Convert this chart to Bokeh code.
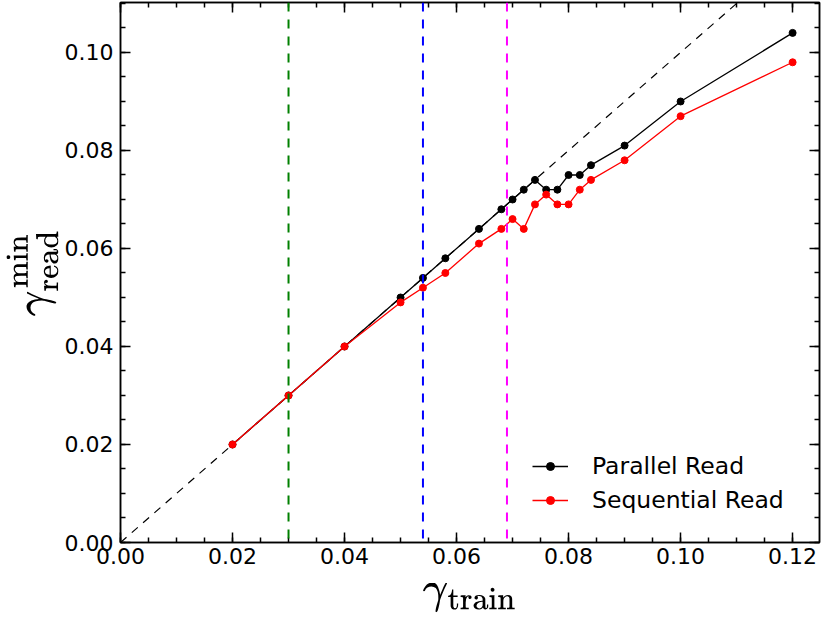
from bokeh.plotting import figure
from bokeh.models import (Span, Legend, LegendItem, LinearAxis, Range1d,
                          FixedTicker)
from bokeh.embed import file_html
from bokeh.resources import INLINE

# ---- data ----
gamma_train = [0.02, 0.03, 0.04, 0.05, 0.054, 0.058, 0.064, 0.068, 0.07, 0.072,
               0.074, 0.076, 0.078, 0.08, 0.082, 0.084, 0.09, 0.10, 0.12]
parallel_read = [0.02, 0.03, 0.04, 0.05, 0.054, 0.058, 0.064, 0.068, 0.07, 0.072,
                 0.074, 0.072, 0.072, 0.075, 0.075, 0.077, 0.081, 0.09, 0.104]
sequential_read = [0.02, 0.03, 0.04, 0.049, 0.052, 0.055, 0.061, 0.064, 0.066, 0.064,
                   0.069, 0.071, 0.069, 0.069, 0.072, 0.074, 0.078, 0.087, 0.098]
diag_x = [0.0, 0.125]
diag_y = [0.0, 0.125]
vlines = [0.03, 0.054, 0.069]
vline_colors = ["#008000", "#0000ff", "#ff00ff"]
x_ticks = [0.0, 0.02, 0.04, 0.06, 0.08, 0.10, 0.12]
x_tick_labels = ["0.00", "0.02", "0.04", "0.06", "0.08", "0.10", "0.12"]
y_ticks = [0.0, 0.02, 0.04, 0.06, 0.08, 0.10]
y_tick_labels = ["0.00", "0.02", "0.04", "0.06", "0.08", "0.10"]
minor = [i * 0.005 for i in range(0, 26)]

p = figure(width=821, height=626, output_backend="svg", toolbar_location=None,
           x_range=Range1d(0, 0.1248), y_range=Range1d(0, 0.1102),
           min_border_left=120, min_border_right=2, min_border_top=2,
           min_border_bottom=84)
p.background_fill_color = "white"
p.border_fill_color = "white"
p.grid.visible = False
p.outline_line_color = "black"
p.outline_line_width = 1.5

# diagonal reference
p.line(diag_x, diag_y, line_color="black", line_width=1.2, line_dash="8 7")

for xv, c in zip(vlines, vline_colors):
    p.add_layout(Span(location=xv, dimension="height", line_color=c,
                      line_width=2, line_dash="9 8"))

l1 = p.line(gamma_train, parallel_read, line_color="black", line_width=1.3)
s1 = p.scatter(gamma_train, parallel_read, size=7, fill_color="black", line_color="black")
l2 = p.line(gamma_train, sequential_read, line_color="#ff0000", line_width=1.3)
s2 = p.scatter(gamma_train, sequential_read, size=7, fill_color="#ff0000", line_color="#ff0000")

def style_axis(ax, ticks, labels, show_labels=True):
    ax.ticker = FixedTicker(ticks=ticks, minor_ticks=minor)
    ax.major_tick_in = 10
    ax.major_tick_out = 0
    ax.minor_tick_in = 5
    ax.minor_tick_out = 0
    ax.major_tick_line_width = 1.5
    ax.minor_tick_line_width = 1.5
    ax.axis_line_width = 1.5
    ax.major_label_text_font = "DejaVu Sans"
    ax.major_label_text_color = "black"
    ax.axis_label_text_color = "black"
    if show_labels:
        ax.major_label_overrides = {t: l for t, l in zip(ticks, labels)}
        ax.major_label_text_font_size = "22px"
    else:
        ax.major_label_overrides = {t: "" for t in ticks}
        ax.major_label_text_font_size = "1px"
        ax.major_label_standoff = 0
        ax.axis_label_standoff = 0

xa = p.xaxis[0]
ya = p.yaxis[0]
style_axis(xa, x_ticks, x_tick_labels)
style_axis(ya, y_ticks, y_tick_labels)
xa.major_label_standoff = 5
ya.major_label_standoff = 7
xa.axis_label = r"$$\gamma_{\mathrm{train}}$$"
ya.axis_label = r"$$\gamma_{\mathrm{read}}^{\mathrm{min}}$$"
xa.axis_label_text_font_size = "37px"
ya.axis_label_text_font_size = "37px"
xa.axis_label_standoff = 16
ya.axis_label_standoff = 3

top = LinearAxis()
right = LinearAxis()
style_axis(top, x_ticks, x_tick_labels, show_labels=False)
style_axis(right, y_ticks, y_tick_labels, show_labels=False)
p.add_layout(top, "above")
p.add_layout(right, "right")

legend = Legend(items=[LegendItem(label="Parallel Read", renderers=[l1, s1]),
                       LegendItem(label="Sequential Read", renderers=[l2, s2])],
                location=(402, 18), border_line_alpha=0, background_fill_alpha=0,
                label_text_font="DejaVu Sans", label_text_font_size="23.5px",
                label_text_color="black",
                glyph_width=36, glyph_height=20, spacing=6, label_standoff=24,
                padding=10)
p.add_layout(legend)

open("out.html", "w").write(file_html(p, INLINE))
